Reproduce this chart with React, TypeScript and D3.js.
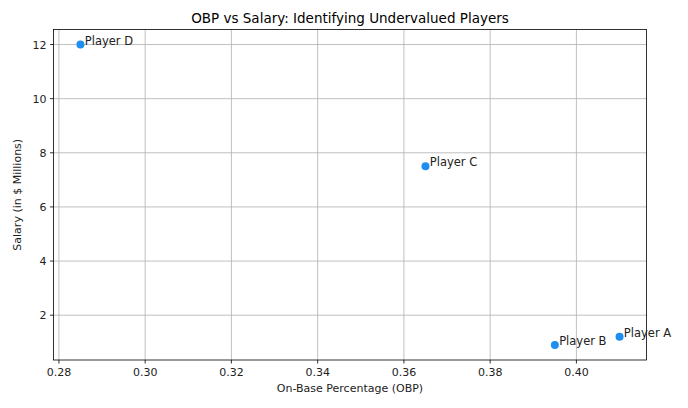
import * as d3 from "d3";

const players = ["Player A", "Player B", "Player C", "Player D"];
const obp = [0.41, 0.395, 0.365, 0.285];
const salary = [1.2, 0.9, 7.5, 12];
const xTicks = [0.28, 0.3, 0.32, 0.34, 0.36, 0.38, 0.4];
const yTicks = [2, 4, 6, 8, 10, 12];

export default function App() {
  const width = 688;
  const height = 408;
  const margin = { top: 29.5, right: 41.5, bottom: 48, left: 53.5 };
  const font = "DejaVu Sans, sans-serif";

  const pad = (lo: number, hi: number) => {
    const m = (hi - lo) * 0.05;
    return [lo - m, hi + m];
  };

  const x = d3
    .scaleLinear()
    .domain(pad(d3.min(obp)!, d3.max(obp)!))
    .range([margin.left, width - margin.right]);
  const y = d3
    .scaleLinear()
    .domain(pad(d3.min(salary)!, d3.max(salary)!))
    .range([height - margin.bottom, margin.top]);

  const [x0, x1] = x.range();
  const [y0, y1] = y.range();

  return (
    <svg
      width={width}
      height={height}
      style={{ position: "absolute", left: 0, top: 0, background: "white" }}
      fontFamily={font}
    >
      <text x={(x0 + x1) / 2} y={23} textAnchor="middle" fontSize={13.5} fill="#000">
        OBP vs Salary: Identifying Undervalued Players
      </text>

      {/* grid */}
      {xTicks.map((t) => (
        <line key={"gx" + t} x1={x(t)} x2={x(t)} y1={y0} y2={y1} stroke="#b0b0b0" strokeWidth={0.8} />
      ))}
      {yTicks.map((t) => (
        <line key={"gy" + t} x1={x0} x2={x1} y1={y(t)} y2={y(t)} stroke="#b0b0b0" strokeWidth={0.8} />
      ))}

      {/* ticks */}
      {xTicks.map((t) => (
        <g key={"tx" + t}>
          <line x1={x(t)} x2={x(t)} y1={y0} y2={y0 + 3.5} stroke="#000" strokeWidth={0.8} />
          <text x={x(t)} y={y0 + 16} textAnchor="middle" fontSize={11} fill="#222">
            {d3.format(".2f")(t)}
          </text>
        </g>
      ))}
      {yTicks.map((t) => (
        <g key={"ty" + t}>
          <line x1={x0} x2={x0 - 3.5} y1={y(t)} y2={y(t)} stroke="#000" strokeWidth={0.8} />
          <text x={x0 - 7} y={y(t) + 4} textAnchor="end" fontSize={11} fill="#222">
            {t}
          </text>
        </g>
      ))}

      <rect x={x0} y={y1} width={x1 - x0} height={y0 - y1} fill="none" stroke="#000" strokeWidth={0.8} />

      <text x={(x0 + x1) / 2} y={392} textAnchor="middle" fontSize={11} fill="#222">
        On-Base Percentage (OBP)
      </text>
      <text
        transform={`translate(21, ${(y0 + y1) / 2}) rotate(-90)`}
        textAnchor="middle"
        fontSize={11}
        fill="#222"
      >
        Salary (in $ Millions)
      </text>

      {/* points */}
      {players.map((p, i) => (
        <g key={p}>
          <circle cx={x(obp[i])} cy={y(salary[i])} r={4} fill="#1e8ff0" />
          <text x={x(obp[i] + 0.001)} y={y(salary[i])} fontSize={11.5} fill="#222">
            {p}
          </text>
        </g>
      ))}
    </svg>
  );
}
